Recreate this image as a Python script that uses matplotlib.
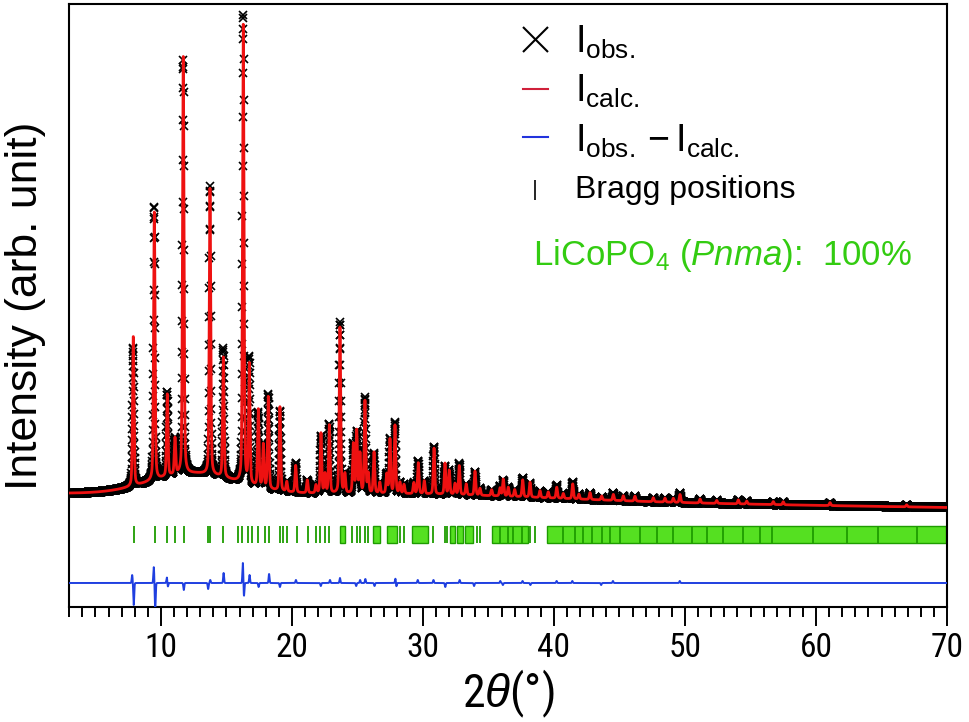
import numpy as np
import matplotlib
matplotlib.use('Agg')
import matplotlib.pyplot as plt
from matplotlib import font_manager

# diffraction peaks: 2theta (deg) and height above background (arb.)
peak_pos = [7.885, 9.49, 10.48, 11.07, 11.70, 13.74, 14.76, 16.28, 16.74, 17.43,
	17.81, 18.19, 19.08, 19.60, 20.28, 21.17, 21.83, 22.21, 22.52, 22.85,
	23.66, 24.04, 24.68, 24.94, 25.19, 25.57, 25.82, 26.26, 26.70, 27.23,
	27.48, 27.86, 28.24, 28.55, 29.30, 29.64, 30.10, 30.84, 31.68, 32.00,
	32.44, 32.77, 33.30, 33.97, 34.35, 35.24, 35.88, 36.13, 36.51, 37.00,
	37.61, 38.17, 38.93, 39.56, 40.21, 40.71, 41.43, 41.90, 42.75, 43.64,
	44.53, 45.29, 46.18, 47.58, 48.47, 49.11, 49.62, 51.15, 52.42, 54.07,
	54.71, 56.74, 57.50, 61.07, 66.92]
peak_height = [150, 268, 82, 36, 417, 286, 120, 458, 119, 77,
	43, 92, 84, 10, 27, 13, 8, 60, 19, 68,
	166, 19, 49, 62, 39, 92, 19, 41, 11, 19,
	54, 68, 11, 9, 11, 31, 13, 46, 31, 24,
	11, 29, 11, 24, 7, 6, 8, 17, 9, 7,
	17, 15, 7, 6, 11, 5, 15, 5, 7, 4,
	6, 5, 5, 4, 4, 4, 8, 4, 3, 4,
	3, 3, 3, 3, 2]
peak_fwhm = 0.13
peak_eta = 0.35

# background: sloping line plus broad humps
bg_start = 114.0
bg_end = 100.0
hump_center = [12.5, 30.0]
hump_height = [21.0, 5.0]
hump_sigma = [3.3, 10.0]

# difference curve features (obs - calc), drawn at an offset
diff_pos = [7.80, 7.92, 9.45, 9.56, 10.45, 10.52, 11.74, 13.60, 13.76, 14.78,
	16.25, 16.33, 16.76, 17.45, 18.25, 19.08, 20.30, 22.20, 22.90, 23.66,
	24.90, 25.20, 25.60, 26.30, 27.90, 27.96, 29.60, 30.80, 31.70, 32.80,
	33.90, 35.90, 36.10, 37.60, 38.20, 40.20, 41.40, 43.60, 44.50, 49.60]
diff_amp = [8, -22, 16, -27, 6, -4, -7, -6, 3, 10,
	21, -14, 8, -4, 9, -4, 3, -3, 3, 5,
	-3, 3, 4, -3, 5, -4, 3, 3, -4, 3,
	-3, 2, -2, 2, -2, 2, 2, -2, 2, 2]
diff_sigma = 0.035
diff_offset = 24.5

# Bragg reflections of LiCoPO4 (Pnma)
bragg_ticks = [7.94, 9.54, 10.48, 11.07, 11.76, 13.61, 13.74, 14.76, 15.90, 16.16,
	16.66, 16.92, 17.43, 17.94, 18.27, 19.08, 19.29, 19.60, 20.36, 21.24,
	21.83, 22.13, 22.52, 22.85, 24.56, 24.94, 25.19, 25.57, 25.82, 28.24,
	28.55, 30.79, 31.68, 31.81, 34.10, 34.35, 35.88, 36.51, 36.89, 37.53,
	38.17, 38.55, 40.71, 41.60, 42.24, 42.88, 43.64, 44.27, 45.04, 46.56,
	47.84, 49.11, 50.51, 51.66, 52.92, 54.45, 55.73, 56.62, 59.79, 62.34,
	64.76, 67.69]
bragg_band_start = [23.66, 26.21, 27.23, 29.14, 32.06, 32.57, 33.21, 35.24, 39.44]
bragg_band_end = [24.04, 26.72, 27.99, 30.40, 32.44, 33.08, 33.84, 38.04, 69.90]
bragg_bottom = 64
bragg_top = 81

x_major = [10, 20, 30, 40, 50, 60, 70]

def pick(names):
	have = set(f.name for f in font_manager.fontManager.ttflist)
	return [n for n in names if n in have] + ['DejaVu Sans']

def pseudo_voigt(x, pos, height):
	u = (x - pos) / peak_fwhm
	g = np.exp(-4 * np.log(2) * u ** 2)
	l = 1 / (1 + 4 * u ** 2)
	return height * (peak_eta * l + (1 - peak_eta) * g)

def background(x):
	b = bg_start + (bg_end - bg_start) * (x - 3) / 67.0
	for c, h, s in zip(hump_center, hump_height, hump_sigma):
		b = b + h * np.exp(-0.5 * ((x - c) / s) ** 2)
	return b

def main():
	narrow = pick(['Liberation Sans Narrow', 'Roboto Condensed', 'Open Sans Condensed', 'Liberation Sans'])
	regular = pick(['Liberation Sans'])
	plt.rcParams['font.family'] = regular
	plt.rcParams['mathtext.fontset'] = 'custom'
	plt.rcParams['mathtext.rm'] = regular[0]
	plt.rcParams['mathtext.it'] = regular[0] + ':italic'

	x = np.arange(3.0, 70.0001, 0.01)
	calc = background(x)
	for p, h in zip(peak_pos, peak_height):
		calc = calc + pseudo_voigt(x, p, h)
	diff = np.zeros_like(x)
	for p, a in zip(diff_pos, diff_amp):
		diff = diff + a * np.exp(-0.5 * ((x - p) / diff_sigma) ** 2)
	obs = calc + diff

	fig = plt.figure(figsize=(9.7, 7.22), dpi=100)
	ax = fig.add_axes([0.07144, 0.15859, 0.90485, 0.83518])

	ax.plot(x, obs, 'x', color='black', markersize=5.5, markeredgewidth=1.2, zorder=2)
	ax.plot(x, calc, color='#ee1111', lw=2.0, zorder=3)
	ax.plot(x, diff + diff_offset, color='#1f3fe0', lw=1.4, zorder=3)

	widths = [e - s for s, e in zip(bragg_band_start, bragg_band_end)]
	ax.bar(bragg_band_start, bragg_top - bragg_bottom, width=widths, bottom=bragg_bottom,
		align='edge', color='#55e021', edgecolor='#1e9c00', linewidth=1.0, zorder=2)
	ax.vlines(bragg_ticks, bragg_bottom, bragg_top, color='#1e9c00', lw=1.3, zorder=3)

	ax.set_xlim(3, 70)
	ax.set_ylim(0, 603)
	ax.set_yticks([])
	ax.set_xticks(x_major)
	ax.set_xticks(np.arange(3, 71, 1), minor=True)
	ax.tick_params(axis='x', which='major', direction='out', length=13.5, width=1.4, pad=4)
	ax.tick_params(axis='x', which='minor', direction='out', length=7.2, width=1.4)
	for lab in ax.get_xticklabels():
		lab.set_family(narrow)
		lab.set_fontsize(24)
	for s in ax.spines.values():
		s.set_linewidth(1.5)

	ax.set_ylabel('Intensity (arb. unit)', fontsize=32, labelpad=17)
	ax.set_xlabel(r'2$\it{\theta}$(°)', fontsize=33, family=narrow, labelpad=3)

	# legend drawn by hand to keep the spacing of the original
	t = ax.transAxes
	ax.plot([0.531], [0.9436], 'x', color='black', markersize=18, markeredgewidth=1.5, transform=t, clip_on=False)
	ax.plot([0.517, 0.545], [0.8599, 0.8599], color='#d0203a', lw=1.5, transform=t)
	ax.plot([0.517, 0.545], [0.7803, 0.7803], color='#2233dd', lw=1.5, transform=t)
	ax.plot([0.531], [0.6924], '|', color='black', markersize=15, markeredgewidth=1.2, transform=t)
	ax.text(0.576, 0.9196, r'$\mathrm{I}_{\mathrm{obs.}}$', fontsize=27, transform=t, va='baseline')
	ax.text(0.576, 0.8383, r'$\mathrm{I}_{\mathrm{calc.}}$', fontsize=27, transform=t, va='baseline')
	ax.text(0.576, 0.7554, r'$\mathrm{I}_{\mathrm{obs.}} - \mathrm{I}_{\mathrm{calc.}}$', fontsize=27,
		transform=t, va='baseline')
	ax.text(0.576, 0.6791, 'Bragg positions', fontsize=23, transform=t, va='baseline')
	ax.text(0.528, 0.568, r'LiCoPO$_4$ ($\it{Pnma}$):  100%', fontsize=25, color='#33cc11',
		transform=t, va='baseline')

	fig.savefig('out.png', dpi=100)

if __name__ == '__main__':
	main()
